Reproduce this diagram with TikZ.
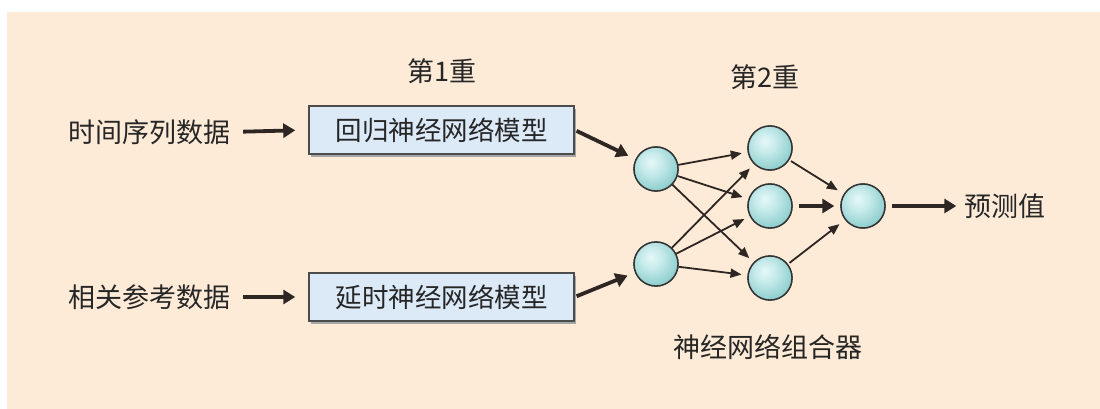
\documentclass[tikz,border=0pt]{standalone}
\usepackage{fontspec}
\setmainfont{Noto Sans CJK SC}
\usetikzlibrary{arrows.meta}
\definecolor{bgpeach}{HTML}{FDEBD8}
\definecolor{boxblue}{HTML}{DCEAF8}
\definecolor{txt}{HTML}{262626}
\definecolor{linec}{HTML}{2E2622}
\pgfdeclareradialshading{neuronball}{\pgfpoint{-6bp}{8bp}}{%
  rgb(0bp)=(0.90,0.97,0.97);
  rgb(12bp)=(0.78,0.92,0.92);
  rgb(35bp)=(0.50,0.78,0.78);
  rgb(55bp)=(0.33,0.68,0.68);
  rgb(100bp)=(0.33,0.68,0.68)}
\tikzset{
  lbl/.style={text=txt, font=\fontsize{27}{30}\selectfont, inner sep=0pt},
  modelbox/.style={draw=black!70, line width=1.5pt, fill=boxblue, minimum width=265pt, minimum height=48pt, inner sep=0pt, text=txt, font=\fontsize{26.5}{30}\selectfont},
  neuron/.style={circle, draw=black!80, line width=1.4pt, minimum size=44pt, inner sep=0pt, shading=neuronball},
  thick arrow/.style={line width=3.8pt, -{Triangle[length=12pt,width=14pt]}, linec},
  thin arrow/.style={line width=1.8pt, -{Triangle[length=11pt,width=9pt]}, linec},
}
\begin{document}
\begin{tikzpicture}[x=1pt,y=-1pt]
\useasboundingbox (0,0) rectangle (1100,409);
\fill[white] (0,0) rectangle (1100,409);
\fill[bgpeach] (7,12) rectangle (1100,409);
% titles
\node[lbl] (l1) at (442,71) {第1重};
\node[lbl] (l2) at (765,77) {第2重};
% inputs
\node[lbl] (t1) at (149,132) {时间序列数据};
\node[lbl] (t2) at (149,297) {相关参考数据};
% boxes with shadow
\fill[black!35] (311,109) rectangle (576,157);
\fill[black!35] (311,276) rectangle (576,324);
\node[modelbox] (m1) at (441.5,130) {回归神经网络模型};
\node[modelbox] (m2) at (441.5,297) {延时神经网络模型};
% neurons
\node[neuron] (a1) at (656,169) {};
\node[neuron] (a2) at (656,264) {};
\node[neuron] (b1) at (770,148) {};
\node[neuron] (b2) at (770,206) {};
\node[neuron] (b3) at (770,278) {};
\node[neuron] (c) at (863,206) {};
% output label
\node[lbl] (out) at (1005,206) {预测值};
\node[lbl] (comb) at (768,347) {神经网络组合器};
% arrows
\draw[thick arrow, shorten <=13pt, shorten >=13pt] (t1.east) -- (m1.west);
\draw[thick arrow, shorten <=13pt, shorten >=13pt] (t2.east) -- (m2.west);
\draw[thick arrow, shorten <=2pt, shorten >=8pt] (m1.east) -- (a1);
\draw[thick arrow, shorten <=2pt, shorten >=8pt] (m2.east) -- (a2);
\foreach \s in {a1,a2}{
  \foreach \t in {b1,b2,b3}{
    \draw[thin arrow, shorten >=6pt] (\s) -- (\t);
  }
}
\draw[thin arrow, shorten <=2pt, shorten >=7pt] (b1) -- (c);
\draw[thin arrow, shorten <=2pt, shorten >=7pt] (b3) -- (c);
\draw[thick arrow, shorten <=6pt, shorten >=6pt] (b2) -- (c);
\draw[thick arrow, shorten <=6pt, shorten >=8pt] (c) -- (out.west);
% redraw neurons on top
\foreach \n in {a1,a2,b1,b2,b3,c}{
  \node[neuron] at (\n) {};
}
\end{tikzpicture}
\end{document}
